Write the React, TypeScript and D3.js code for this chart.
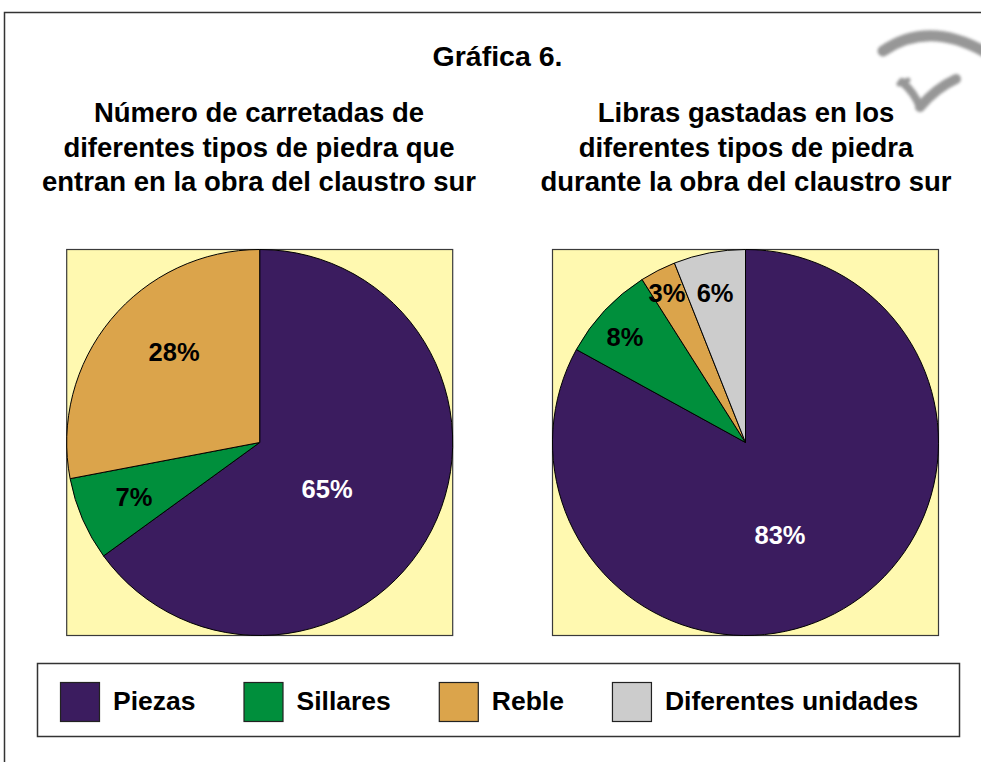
import React from "react";
import * as d3 from "d3";

// ---- data ----
const categories = ["Piezas", "Sillares", "Reble", "Diferentes unidades"];
const colors = ["#3B1C5F", "#008F3C", "#DBA44B", "#CCCCCC"];
const leftValues = [65, 7, 28];
const rightValues = [83, 8, 3, 6];
const mainTitle = "Gráfica 6.";
const leftTitle = ["Número de carretadas de", "diferentes tipos de piedra que", "entran en la obra del claustro sur"];
const rightTitle = ["Libras gastadas en los", "diferentes tipos de piedra", "durante la obra del claustro sur"];

// label placement (radius fraction, angle in degrees clockwise from top)
const leftLabelPos = [[0.424, 124.6], [0.71, 246.6], [0.646, 316.6]];
const rightLabelPos = [[0.511, 159.5], [0.83, 311.2], [0.875, 332.3], [0.79, 348.5]];

const W = 981;
const H = 762;
const FONT = "'Liberation Sans', Arial, Helvetica, sans-serif";

function measure(text: string, size: number) {
  if (typeof document === "undefined") return text.length * size * 0.55;
  const c = document.createElement("canvas");
  const ctx = c.getContext("2d")!;
  ctx.font = `bold ${size}px ${FONT}`;
  return ctx.measureText(text).width;
}

function Pie({ values, cx, cy, r, labelPos }: { values: number[]; cx: number; cy: number; r: number; labelPos: number[][] }) {
  const pie = d3.pie<number>().sort(null).value((d) => d)(values);
  const arc = d3.arc<d3.PieArcDatum<number>>().innerRadius(0).outerRadius(r);
  const total = d3.sum(values);
  return (
    <g>
      <rect x={cx - r} y={cy - r} width={2 * r} height={2 * r} fill="#FFF9B0" stroke="#3a3a3a" strokeWidth={1.2} />
      <g transform={`translate(${cx},${cy})`}>
        {pie.map((p, i) => (
          <path key={i} d={arc(p) || ""} fill={colors[i]} stroke="#000" strokeWidth={1} />
        ))}
        {pie.map((p, i) => {
          const [f, deg] = labelPos[i];
          const a = (deg * Math.PI) / 180;
          const x = Math.sin(a) * r * f;
          const y = -Math.cos(a) * r * f;
          return (
            <text key={"l" + i} x={x} y={y + 9} textAnchor="middle" fontFamily={FONT} fontWeight="bold" fontSize={25.5} fill={i === 0 ? "#fff" : "#000"}>
              {Math.round((p.value / total) * 100) + "%"}
            </text>
          );
        })}
      </g>
    </g>
  );
}

export default function App() {
  const r = 193;
  const cy = 442.5;
  const lcx = 259.7;
  const rcx = 745.5;

  // legend layout
  const legFont = 26.5;
  const sw = 39;
  const legendItems: { x: number; tx: number }[] = [];
  let x = 60;
  categories.forEach((c) => {
    legendItems.push({ x, tx: x + sw + 14 });
    x = x + sw + 14 + measure(c, legFont) + 48;
  });

  return (
    <svg width={W} height={H} style={{ position: "absolute", left: 0, top: 0, background: "#fff" }}>
      <defs>
        <filter id="blur" x="-20%" y="-20%" width="140%" height="140%">
          <feGaussianBlur stdDeviation={1.8} />
        </filter>
      </defs>
      <rect x={0} y={0} width={W} height={H} fill="#fff" />
      <rect x={4.5} y={12.5} width={W + 20} height={H + 20} fill="none" stroke="#333" strokeWidth={1.5} />

      {/* watermark */}
      <g filter="url(#blur)" stroke="#8c8c8c" fill="none" strokeLinecap="round" opacity={0.9}>
        <path d="M 883 51 Q 928 20 985 52" strokeWidth={11} />
        <path d="M 902 82 Q 914 92 920 107" strokeWidth={8} />
        <path d="M 920 107 Q 936 88 956 79" strokeWidth={10} />
        <path d="M 899 84 L 908 80" strokeWidth={5} />
      </g>

      <text x={497.5} y={66} textAnchor="middle" fontFamily={FONT} fontWeight="bold" fontSize={28.5} fill="#000">
        {mainTitle}
      </text>
      {leftTitle.map((t, i) => (
        <text key={"lt" + i} x={259} y={122 + i * 34.5} textAnchor="middle" fontFamily={FONT} fontWeight="bold" fontSize={27.5} fill="#000">
          {t}
        </text>
      ))}
      {rightTitle.map((t, i) => (
        <text key={"rt" + i} x={746} y={122 + i * 34.5} textAnchor="middle" fontFamily={FONT} fontWeight="bold" fontSize={27.5} fill="#000">
          {t}
        </text>
      ))}

      <Pie values={leftValues} cx={lcx} cy={cy} r={r} labelPos={leftLabelPos} />
      <Pie values={rightValues} cx={rcx} cy={cy} r={r} labelPos={rightLabelPos} />

      {/* legend */}
      <rect x={37.5} y={663.5} width={922} height={73} fill="#fff" stroke="#333" strokeWidth={1.5} />
      {legendItems.map((it, i) => (
        <g key={"lg" + i}>
          <rect x={it.x + 0.5} y={682.5} width={sw} height={sw} fill={colors[i]} stroke="#222" strokeWidth={1.2} />
          <text x={it.tx} y={710} fontFamily={FONT} fontWeight="bold" fontSize={legFont} fill="#000">
            {categories[i]}
          </text>
        </g>
      ))}
    </svg>
  );
}
